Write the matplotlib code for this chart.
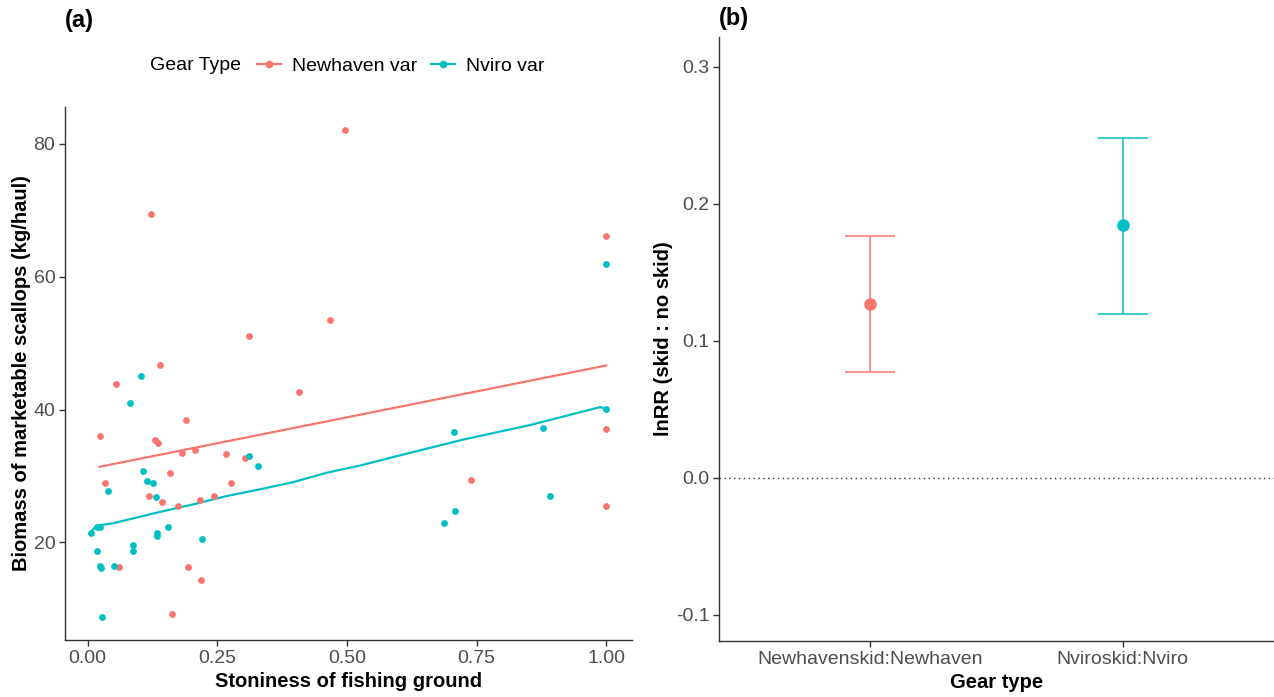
import numpy as np
import matplotlib.pyplot as plt
from matplotlib.lines import Line2D

plt.rcParams['font.family'] = ['Liberation Sans', 'DejaVu Sans']
plt.rcParams['axes.unicode_minus'] = False

red = '#F8766D'
teal = '#00BFC4'
txtcol = '#4D4D4D'

# panel (a) - Newhaven var points
nh_x = [0.4965, 0.122, 0.467, 0.311, 0.139, 0.0555, 0.407, 0.189, 0.023, 0.130,
        0.135, 0.182, 0.206, 0.266, 0.303, 0.159, 0.033, 0.276, 0.119, 0.243,
        0.144, 0.216, 0.175, 0.061, 0.194, 0.219, 0.162, 1.0, 1.0, 0.740, 1.0]
nh_y = [82.1, 69.4, 53.5, 51.1, 46.7, 43.8, 42.6, 38.5, 36.0, 35.4,
        35.0, 33.5, 33.9, 33.3, 32.7, 30.5, 29.0, 29.0, 27.05, 27.05,
        26.05, 26.45, 25.55, 16.3, 16.3, 14.4, 9.3, 66.1, 37.1, 29.4, 25.5]

# panel (a) - Nviro var points
nv_x = [0.102, 0.082, 0.311, 0.328, 0.107, 0.114, 0.125, 0.040, 0.132, 0.006,
        0.018, 0.023, 0.154, 0.134, 0.134, 0.221, 0.088, 0.088, 0.018, 0.023,
        0.026, 0.051, 0.028, 1.0, 0.707, 0.879, 1.0, 0.891, 0.709, 0.687]
nv_y = [45.1, 41.05, 33.0, 31.5, 30.7, 29.2, 29.0, 27.8, 26.85, 21.4,
        22.4, 22.4, 22.4, 21.45, 21.05, 20.6, 19.65, 18.65, 18.65, 16.5,
        16.1, 16.5, 8.8, 61.9, 36.6, 37.3, 40.05, 27.0, 24.7, 22.9]

# fitted lines
nh_fit = (31.04, 15.61)   # intercept, slope
nv_fit_x = [0.006, 0.013, 0.023, 0.049, 0.139, 0.204, 0.268, 0.332, 0.397,
            0.461, 0.526, 0.596, 0.7245, 0.854, 0.969, 0.989, 1.0]
nv_fit_y = [21.6, 22.2, 22.6, 22.9, 24.6, 25.75, 27.0, 28.0, 29.1,
            30.5, 31.6, 33.0, 35.5, 37.7, 40.0, 40.4, 40.05]

# panel (b)
gear = ['Newhavenskid:Newhaven', 'Nviroskid:Nviro']
lnrr = [0.1267, 0.1842]
ci_lo = [0.0774, 0.1196]
ci_hi = [0.1767, 0.2481]
gear_cols = [red, teal]

W, H = 1274, 697
fig = plt.figure(figsize=(W / 100, H / 100), dpi=100)

def box(l, t, r, b):
    return [l / W, 1 - b / H, (r - l) / W, (b - t) / H]

ax1 = fig.add_axes(box(65, 107, 632, 640))
ax2 = fig.add_axes(box(719, 37, 1274, 641))

for ax in (ax1, ax2):
    for s in ('top', 'right'):
        ax.spines[s].set_visible(False)
    for s in ('left', 'bottom'):
        ax.spines[s].set_color('#333333')
        ax.spines[s].set_linewidth(1.0)
    ax.tick_params(length=4, width=1.0, color='#333333', labelsize=14,
                   labelcolor=txtcol, pad=3)

# ---- (a)
ax1.scatter(nh_x, nh_y, s=24, color=red, linewidths=0, zorder=3)
ax1.scatter(nv_x, nv_y, s=24, color=teal, linewidths=0, zorder=3)
xx = np.array([min(nh_x), max(nh_x)])
ax1.plot(xx, nh_fit[0] + nh_fit[1] * xx, color=red, lw=1.6)
ax1.plot(nv_fit_x, nv_fit_y, color=teal, lw=1.6)

ax1.set_xlim(-0.0438, 1.0498)
ax1.set_ylim(5.32, 85.57)
ax1.set_xticks([0, 0.25, 0.5, 0.75, 1.0])
ax1.set_xticklabels(['0.00', '0.25', '0.50', '0.75', '1.00'])
ax1.set_yticks([20, 40, 60, 80])
ax1.set_xlabel('Stoniness of fishing ground', fontsize=14.5,
               fontweight='bold', labelpad=4)
ax1.set_ylabel('Biomass of marketable scallops (kg/haul)', fontsize=14.5,
               fontweight='bold', labelpad=2)
fig.text(65 / W, 1 - 20 / H, '(a)', fontsize=17, fontweight='bold',
         va='center', ha='left')

handles = [Line2D([], [], color=red, lw=1.6, marker='o', markersize=4.5),
           Line2D([], [], color=teal, lw=1.6, marker='o', markersize=4.5)]
fig.text(150 / W, 1 - 66 / H, 'Gear Type', fontsize=14, va='center',
         ha='left')
fig.legend(handles, ['Newhaven var', 'Nviro var'], ncol=2, frameon=False,
           loc='center left', bbox_to_anchor=(257 / W, 1 - 66 / H),
           fontsize=14, handlelength=1.25, handletextpad=0.57,
           columnspacing=0.67, borderpad=0, borderaxespad=0, numpoints=1)

# ---- (b)
pos = np.arange(1, len(gear) + 1)
for i in range(len(gear)):
    ax2.errorbar(pos[i], lnrr[i],
                 yerr=[[lnrr[i] - ci_lo[i]], [ci_hi[i] - lnrr[i]]],
                 fmt='o', color=gear_cols[i], markersize=8, elinewidth=1.1,
                 capsize=18, capthick=1.1)
ax2.axhline(0, color='#333333', lw=1.0, ls=(0, (1, 2.5)))
ax2.set_xlim(0.4, 2.6)
ax2.set_ylim(-0.1192, 0.3217)
ax2.set_xticks(pos)
ax2.set_xticklabels(gear)
ax2.set_yticks([-0.1, 0.0, 0.1, 0.2, 0.3])
ax2.set_yticklabels(['-0.1', '0.0', '0.1', '0.2', '0.3'])
ax2.set_xlabel('Gear type', fontsize=14.5, fontweight='bold', labelpad=4)
ax2.set_ylabel('lnRR (skid : no skid)', fontsize=14.5, fontweight='bold',
               labelpad=2)
fig.text(719 / W, 1 - 18 / H, '(b)', fontsize=17, fontweight='bold',
         va='center', ha='left')

fig.savefig('out.png', dpi=100)
